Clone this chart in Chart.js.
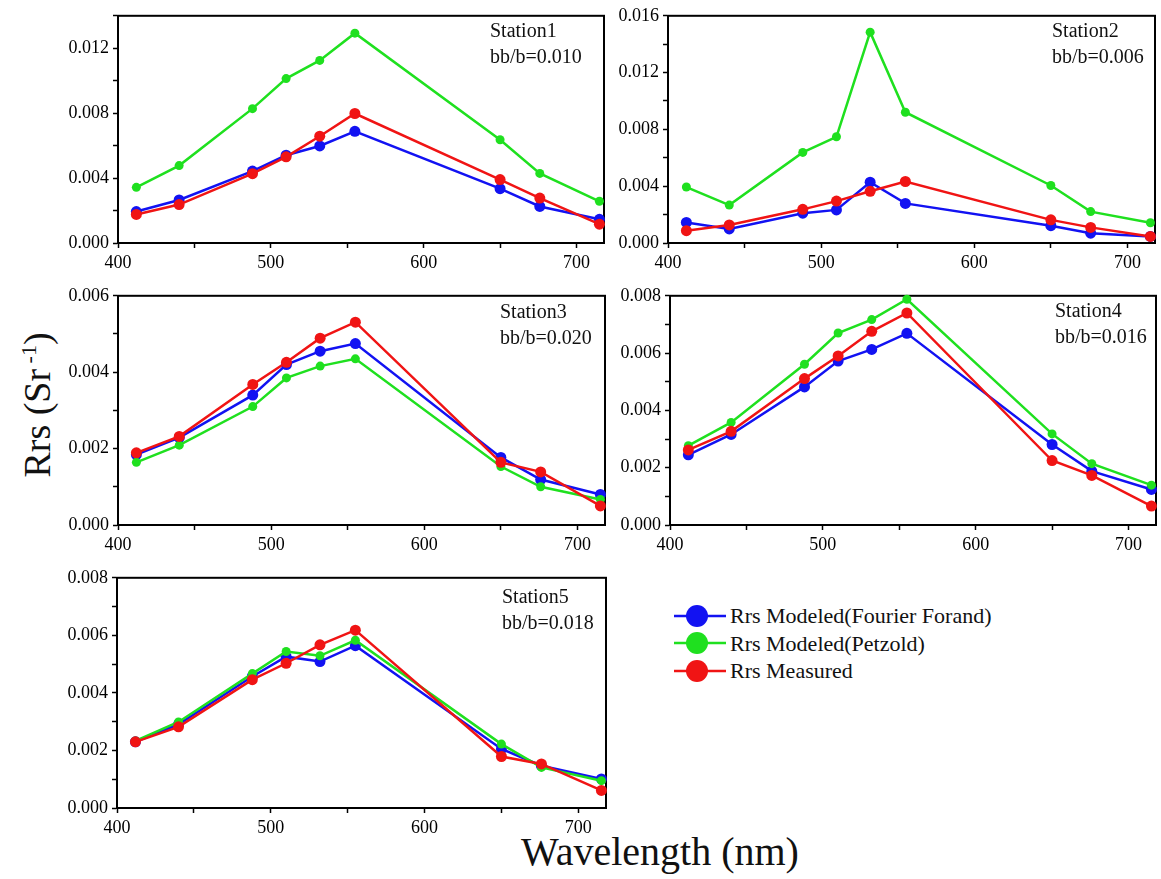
<!DOCTYPE html>
<html>
<head>
<meta charset="utf-8">
<script src="https://cdn.jsdelivr.net/npm/chart.js@4.4.1/dist/chart.umd.min.js"></script>
<style>
    body { margin: 0; background: #fff; }
    #page { position: relative; width: 1161px; height: 879px; overflow: hidden; font-family: "Liberation Serif", "Times New Roman", serif; color: #111; }
    canvas { position: absolute; }
    .station { position: absolute; font-size: 20px; line-height: 26px; white-space: nowrap; }
    .axis-title { position: absolute; font-size: 38px; line-height: 1; white-space: nowrap; }
    #legend { position: absolute; left: 672px; top: 602px; font-size: 22px; line-height: 27.5px; }
    #legend div { display: flex; align-items: center; height: 27.5px; }
    #legend svg { margin-right: 4px; }
</style>
</head>
<body>
<div id="page">
    <div class="axis-title" id="ytitle" style="left:37px; top:405px; transform: translate(-50%,-50%) rotate(-90deg);">Rrs (Sr<sup style="font-size:22px;"> -1</sup>)</div>
    <div class="axis-title" style="left:660px; top:832px; font-size:40px; transform: translateX(-50%);">Wavelength (nm)</div>
    <div id="legend"></div>
</div>
<script>
// Longueurs d'onde (nm)
const wavelengths = [412, 440, 488, 510, 532, 555, 650, 676, 715];

// Station 1
const s1Fourier  = [0.00194, 0.00265, 0.00443, 0.00541, 0.00598, 0.00688, 0.00335, 0.00225, 0.00146];
const s1Petzold  = [0.00343, 0.00477, 0.00828, 0.01013, 0.01125, 0.01293, 0.00636, 0.00429, 0.00257];
const s1Measured = [0.00176, 0.00237, 0.00427, 0.00531, 0.00658, 0.00798, 0.00391, 0.00277, 0.00116];

// Station 2
const s2Fourier  = [0.00145, 0.00099, 0.00210, 0.00233, 0.00428, 0.00279, 0.00122, 0.00069, 0.00046];
const s2Petzold  = [0.00394, 0.00267, 0.00638, 0.00748, 0.01485, 0.00921, 0.00405, 0.00221, 0.00143];
const s2Measured = [0.00087, 0.00127, 0.00237, 0.00295, 0.00364, 0.00433, 0.00163, 0.00110, 0.00046];

// Station 3
const s3Fourier  = [0.00184, 0.00229, 0.00340, 0.00420, 0.00455, 0.00475, 0.00177, 0.00119, 0.00080];
const s3Petzold  = [0.00164, 0.00209, 0.00310, 0.00385, 0.00416, 0.00435, 0.00153, 0.00100, 0.00067];
const s3Measured = [0.00189, 0.00232, 0.00368, 0.00426, 0.00489, 0.00531, 0.00164, 0.00139, 0.00050];

// Station 4
const s4Fourier  = [0.00245, 0.00316, 0.00482, 0.00572, 0.00613, 0.00669, 0.00281, 0.00188, 0.00124];
const s4Petzold  = [0.00277, 0.00358, 0.00561, 0.00670, 0.00717, 0.00788, 0.00318, 0.00214, 0.00139];
const s4Measured = [0.00262, 0.00327, 0.00511, 0.00590, 0.00676, 0.00740, 0.00225, 0.00173, 0.00066];

// Station 5
const s5Fourier  = [0.00230, 0.00291, 0.00457, 0.00526, 0.00509, 0.00564, 0.00205, 0.00147, 0.00101];
const s5Petzold  = [0.00233, 0.00299, 0.00467, 0.00544, 0.00529, 0.00583, 0.00222, 0.00141, 0.00095];
const s5Measured = [0.00230, 0.00282, 0.00446, 0.00503, 0.00567, 0.00618, 0.00179, 0.00153, 0.00061];

const seriesNames = ['Rrs Modeled(Fourier Forand)', 'Rrs Modeled(Petzold)', 'Rrs Measured'];
const seriesColors = ['#1212f2', '#1fe01f', '#f01414'];
const stationNames = ['Station1', 'Station2', 'Station3', 'Station4', 'Station5'];
const bbRatios = ['bb/b=0.010', 'bb/b=0.006', 'bb/b=0.020', 'bb/b=0.016', 'bb/b=0.018'];
const xTickLabels = [400, 500, 600, 700];

const FONT = '"Liberation Serif", "Times New Roman", serif';
const Y_AXIS_W = 70;
const X_AXIS_H = 40;
const PAD = 12;

// cadre autour de la zone de tracé
const framePlugin = {
    id: 'frame',
    beforeDatasetsDraw(chart) {
        const a = chart.chartArea;
        const ctx = chart.ctx;
        ctx.save();
        ctx.strokeStyle = '#000';
        ctx.lineWidth = 2;
        ctx.strokeRect(a.left, a.top, a.right - a.left, a.bottom - a.top);
        ctx.restore();
    }
};

function makeDataset(i, values) {
    return {
        label: seriesNames[i],
        data: wavelengths.map((w, k) => ({ x: w, y: values[k] })),
        borderColor: seriesColors[i],
        backgroundColor: seriesColors[i],
        borderWidth: 2.5,
        pointRadius: i === 1 ? 4.5 : 5.5,
        pointBorderWidth: 0,
        tension: 0,
        clip: false,
        order: 3 - i
    };
}

function isMultiple(v, step) {
    const r = v / step;
    return Math.abs(r - Math.round(r)) < 1e-6;
}

/**
 * Crée un panneau de station
 * box: zone de tracé (coordonnées de page)
 */
function renderPanel(idx, box, series, yMax, yLabelStep) {
    const page = document.getElementById('page');
    const canvas = document.createElement('canvas');
    const w = (box.r - box.l) + Y_AXIS_W + PAD;
    const h = (box.b - box.t) + PAD + X_AXIS_H;
    canvas.width = w;
    canvas.height = h;
    canvas.style.left = (box.l - Y_AXIS_W) + 'px';
    canvas.style.top = (box.t - PAD) + 'px';
    page.appendChild(canvas);

    const label = document.createElement('div');
    label.className = 'station';
    label.style.left = box.textX + 'px';
    label.style.top = box.textY + 'px';
    label.innerHTML = stationNames[idx] + '<br>' + bbRatios[idx];
    page.appendChild(label);

    const axisGrid = {
        display: true,
        drawOnChartArea: false,
        drawTicks: true,
        tickLength: 5,
        tickColor: '#000',
        tickWidth: 1.5
    };
    const axisBorder = { display: true, color: '#000', width: 2 };

    new Chart(canvas.getContext('2d'), {
        type: 'line',
        data: { datasets: series.map((vals, i) => makeDataset(i, vals)) },
        options: {
            responsive: false,
            animation: false,
            layout: { padding: { left: 0, top: PAD, right: PAD, bottom: 0 } },
            plugins: { legend: { display: false }, tooltip: { enabled: false } },
            scales: {
                x: {
                    type: 'linear',
                    min: 400,
                    max: 718,
                    grid: axisGrid,
                    border: axisBorder,
                    afterFit: s => { s.height = X_AXIS_H; },
                    ticks: {
                        stepSize: 50,
                        includeBounds: false,
                        maxRotation: 0,
                        autoSkip: false,
                        padding: 4,
                        color: '#000',
                        font: { family: FONT, size: 18 },
                        callback: v => xTickLabels.includes(v) ? String(v) : ''
                    }
                },
                y: {
                    type: 'linear',
                    min: 0,
                    max: yMax,
                    grid: axisGrid,
                    border: axisBorder,
                    afterFit: s => { s.width = Y_AXIS_W; },
                    ticks: {
                        stepSize: yLabelStep / 2,
                        includeBounds: false,
                        autoSkip: false,
                        padding: 4,
                        color: '#000',
                        font: { family: FONT, size: 18 },
                        callback: v => isMultiple(v, yLabelStep) ? v.toFixed(3) : ''
                    }
                }
            }
        },
        plugins: [framePlugin]
    });
}

function renderLegend() {
    const legend = document.getElementById('legend');
    legend.innerHTML = seriesNames.map((name, i) => `
        <div>
            <svg width="54" height="26" viewBox="0 0 54 26" aria-hidden="true">
                <line x1="2" y1="13" x2="54" y2="13" stroke="${seriesColors[i]}" stroke-width="2.5"/>
                <circle cx="25" cy="13" r="11" fill="${seriesColors[i]}"/>
            </svg>
            <span>${name}</span>
        </div>
    `).join('');
}

renderPanel(0, { l: 118, r: 604, t: 13, b: 243, textX: 490, textY: 17 }, [s1Fourier, s1Petzold, s1Measured], 0.014, 0.004);
renderPanel(1, { l: 668, r: 1155, t: 13, b: 243, textX: 1052, textY: 17 }, [s2Fourier, s2Petzold, s2Measured], 0.016, 0.004);
renderPanel(2, { l: 118, r: 605, t: 293, b: 525, textX: 500, textY: 298 }, [s3Fourier, s3Petzold, s3Measured], 0.006, 0.002);
renderPanel(3, { l: 670, r: 1156, t: 293, b: 525, textX: 1055, textY: 297 }, [s4Fourier, s4Petzold, s4Measured], 0.008, 0.002);
renderPanel(4, { l: 117, r: 606, t: 575, b: 808, textX: 502, textY: 583 }, [s5Fourier, s5Petzold, s5Measured], 0.008, 0.002);
renderLegend();
</script>
</body>
</html>
